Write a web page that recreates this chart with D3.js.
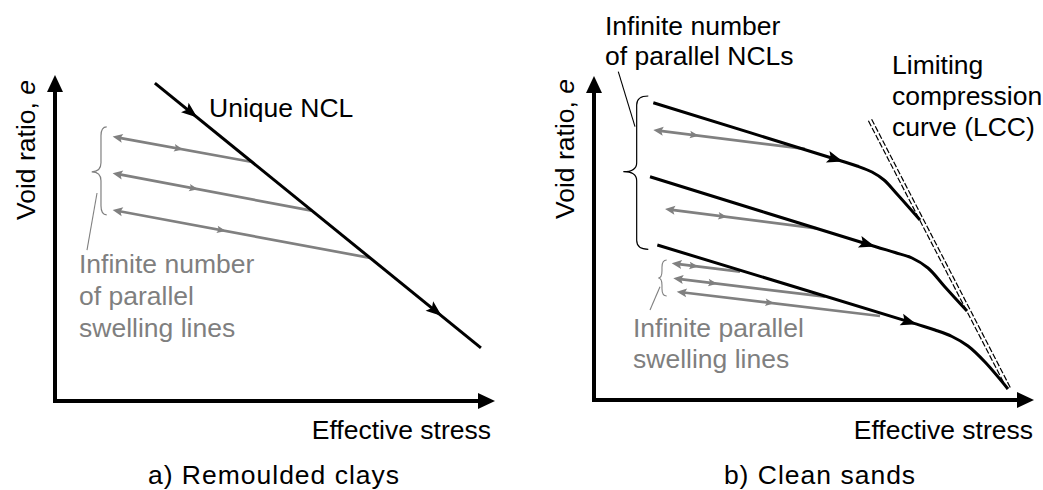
<!DOCTYPE html>
<html><head><meta charset="utf-8">
<script src="https://cdn.jsdelivr.net/npm/d3@7"></script>
<style>body{margin:0;background:#fff}svg{display:block}text{font-family:"Liberation Sans",Arial,Helvetica,sans-serif}</style>
</head><body><svg id="c" width="1043" height="490"></svg>
<script>
// ---------------- DATA (abstract units: stress 0-10, void ratio 0-10) ----------------
const panelCaptions = ["a) Remoulded clays", "b) Clean sands"];
const xAxisTitle = "Effective stress";
const yAxisTitle = "Void ratio, ";
const yAxisSymbol = "e";

// Panel a: remoulded clays
const clayNCL = [[2.27, 9.75], [9.68, 1.63]];
const clayNCLArrowAt = [0.13, 0.88];
const claySwellStart = [[1.31, 8.11], [1.31, 6.99], [1.31, 5.86]];
const claySwellEnd = [[4.45, 7.34], [5.83, 5.84], [7.16, 4.39]];
const claySwellArrowAt = [0.51, 0.43, 0.44];
const clayBrace = {top: 8.41, mid: 7.03, bottom: 5.71, hook: 1.175, stem: 1.045, tip: 0.834};
const clayLeader = [[0.955, 6.38], [0.727, 4.63]];
const clayNCLLabel = "Unique NCL";
const claySwellLabel = ["Infinite number", "of parallel", "swelling lines"];

// Panel b: clean sands
const sandNCL1 = [[1.348, 9.176], [5.659, 7.361], [5.977, 7.222], [6.318, 7.037], [6.591, 6.790], [6.886, 6.358], [7.409, 5.556]];
const sandNCL2 = [[1.273, 6.892], [6.386, 4.738], [6.841, 4.552], [7.227, 4.383], [7.591, 4.074], [7.977, 3.488], [8.477, 2.747]];
const sandNCL3 = [[1.439, 4.784], [7.334, 2.340], [7.750, 2.160], [8.136, 1.960], [8.500, 1.667], [8.886, 1.173], [9.409, 0.340]];
const sandLCC = [[6.273, 8.642], [9.432, 0.340]];
const sandSwellStart = [[1.348, 8.333], [1.614, 5.895], [1.766, 4.219], [1.802, 3.756], [1.880, 3.343]];
const sandSwellEnd = [[4.795, 7.749], [5.061, 5.299], [3.318, 3.960], [5.250, 3.188], [6.500, 2.593]];
const sandSwellArrowAt = [0.30, 0.41, 0.39, 0.29, 0.48];
const sandBigBrace = {top: 9.383, mid: 7.046, bottom: 4.650, hook: 1.234, stem: 0.970, tip: 0.666};
const sandBigLeader = [[0.932, 8.435], [0.552, 10.133]];
const sandSmallBrace = {top: 4.321, mid: 3.765, bottom: 3.210, hook: 1.652, stem: 1.545, tip: 1.461};
const sandSmallLeader = [[1.5, 3.497], [1.273, 2.778]];
const sandNCLLabel = ["Infinite number", "of parallel NCLs"];
const sandLCCLabel = ["Limiting", "compression", "curve (LCC)"];
const sandSwellLabel = ["Infinite parallel", "swelling lines"];

// ---------------- DRAWING ----------------
const svg = d3.select("#c");
const FS = 26.5;
const GRAY = "#808080";
const GRAYTXT = "#7f7f7f";

const xa = d3.scaleLinear().domain([0, 10]).range([55, 495]);
const ya = d3.scaleLinear().domain([0, 10]).range([401, 75]);
const xb = d3.scaleLinear().domain([0, 10]).range([594, 1034]);
const yb = d3.scaleLinear().domain([0, 10]).range([400, 76]);

function arrowHead(g, tip, ang, len, wid, color, notch) {
  const ca = Math.cos(ang), sa = Math.sin(ang);
  const bx = tip[0] - len * ca, by = tip[1] - len * sa;
  const px = -sa, py = ca;
  const p1 = [bx + px * wid / 2, by + py * wid / 2];
  const p2 = [bx - px * wid / 2, by - py * wid / 2];
  const n = [tip[0] - len * (1 - notch) * ca, tip[1] - len * (1 - notch) * sa];
  g.append("path").attr("d", `M${tip[0]},${tip[1]}L${p1[0]},${p1[1]}L${n[0]},${n[1]}L${p2[0]},${p2[1]}Z`).attr("fill", color);
}

function drawAxes(g, x, y) {
  const x0 = x(0), y0 = y(0), xt = x(10), yt = y(10);
  g.append("line").attr("x1", x0).attr("y1", y0 + 2).attr("x2", x0).attr("y2", yt + 12)
    .attr("stroke", "#000").attr("stroke-width", 4);
  g.append("line").attr("x1", x0 - 2).attr("y1", y0).attr("x2", xt - 12).attr("y2", y0)
    .attr("stroke", "#000").attr("stroke-width", 4);
  arrowHead(g, [x0, yt], -Math.PI / 2, 17, 16, "#000", 0);
  arrowHead(g, [xt, y0], 0, 17, 16, "#000", 0);
}

function brace(g, b, x, y, color, sw) {
  const xh = x(b.hook), xs = x(b.stem), xt = x(b.tip);
  const y0 = y(b.top), ym = y(b.mid), y1 = y(b.bottom);
  const r = Math.min(9, (y1 - y0) / 5);
  const d = `M${xh},${y0}Q${xs},${y0} ${xs},${y0 + r}L${xs},${ym - r}Q${xs},${ym} ${xt},${ym}` +
            `Q${xs},${ym} ${xs},${ym + r}L${xs},${y1 - r}Q${xs},${y1} ${xh},${y1}`;
  g.append("path").attr("d", d).attr("fill", "none").attr("stroke", color).attr("stroke-width", sw);
}

function leader(g, pts, x, y, color) {
  g.append("line").attr("x1", x(pts[0][0])).attr("y1", y(pts[0][1]))
    .attr("x2", x(pts[1][0])).attr("y2", y(pts[1][1]))
    .attr("stroke", color).attr("stroke-width", 1.1);
}

function swellLine(g, s, e, f, x, y) {
  const sx = x(s[0]), sy = y(s[1]), ex = x(e[0]), ey = y(e[1]);
  const ang = Math.atan2(ey - sy, ex - sx);
  const L = 10;
  g.append("line").attr("x1", sx + L * 0.7 * Math.cos(ang)).attr("y1", sy + L * 0.7 * Math.sin(ang))
    .attr("x2", ex).attr("y2", ey).attr("stroke", GRAY).attr("stroke-width", 2.7);
  arrowHead(g, [sx, sy], ang + Math.PI, L, 9, GRAY, 0.2);
  const mx = sx + f * (ex - sx), my = sy + f * (ey - sy);
  arrowHead(g, [mx, my], ang, 9, 7.5, GRAY, 0.2);
}

function textLines(g, lines, px, baselines, color, anchor) {
  lines.forEach((t, i) => {
    g.append("text").attr("x", px).attr("y", baselines[i]).attr("fill", color)
      .attr("font-size", FS).attr("text-anchor", anchor || "start").text(t);
  });
}

function yTitle(g, px, py) {
  const t = g.append("text").attr("transform", `translate(${px},${py}) rotate(-90)`)
    .attr("text-anchor", "middle").attr("font-size", FS).attr("fill", "#000");
  t.append("tspan").text(yAxisTitle);
  t.append("tspan").attr("font-style", "italic").text(yAxisSymbol);
}

// ---- Panel a ----
const ga = svg.append("g");
claySwellStart.forEach((s, i) => swellLine(ga, s, claySwellEnd[i], claySwellArrowAt[i], xa, ya));
{
  const p0 = [xa(clayNCL[0][0]), ya(clayNCL[0][1])], p1 = [xa(clayNCL[1][0]), ya(clayNCL[1][1])];
  ga.append("path").attr("d", d3.line()(clayNCL.map(d => [xa(d[0]), ya(d[1])])))
    .attr("stroke", "#000").attr("stroke-width", 3).attr("fill", "none");
  const ang = Math.atan2(p1[1] - p0[1], p1[0] - p0[0]);
  clayNCLArrowAt.forEach(f => arrowHead(ga, [p0[0] + f * (p1[0] - p0[0]), p0[1] + f * (p1[1] - p0[1])], ang, 16, 12, "#000", 0.2));
}
brace(ga, clayBrace, xa, ya, GRAY, 1.2);
leader(ga, clayLeader, xa, ya, GRAY);
drawAxes(ga, xa, ya);
ga.append("text").attr("x", 209).attr("y", 117).attr("font-size", FS).text(clayNCLLabel);
textLines(ga, claySwellLabel, 79, [273, 305, 337], GRAYTXT);
yTitle(ga, 35, 150);
ga.append("text").attr("x", 491).attr("y", 439).attr("font-size", FS).attr("text-anchor", "end").text(xAxisTitle);
ga.append("text").attr("x", 274).attr("y", 484).attr("font-size", FS).attr("letter-spacing", 1)
  .attr("text-anchor", "middle").text(panelCaptions[0]);

// ---- Panel b ----
const gb = svg.append("g");
sandSwellStart.forEach((s, i) => swellLine(gb, s, sandSwellEnd[i], sandSwellArrowAt[i], xb, yb));
{
  // LCC double dashed line
  const p0 = [xb(sandLCC[0][0]), yb(sandLCC[0][1])], p1 = [xb(sandLCC[1][0]), yb(sandLCC[1][1])];
  const ang = Math.atan2(p1[1] - p0[1], p1[0] - p0[0]);
  const nx = -Math.sin(ang), ny = Math.cos(ang);
  [-1.8, 1.8].forEach(o => {
    gb.append("line").attr("x1", p0[0] + nx * o).attr("y1", p0[1] + ny * o)
      .attr("x2", p1[0] + nx * o).attr("y2", p1[1] + ny * o)
      .attr("stroke", "#000").attr("stroke-width", 1.2).attr("stroke-dasharray", "6,2");
  });
}
const curve = d3.line().x(d => xb(d[0])).y(d => yb(d[1])).curve(d3.curveCatmullRom.alpha(0.5));
[sandNCL1, sandNCL2, sandNCL3].forEach(ncl => {
  gb.append("path").attr("d", curve(ncl)).attr("stroke", "#000").attr("stroke-width", 3).attr("fill", "none");
  const p0 = [xb(ncl[0][0]), yb(ncl[0][1])], p1 = [xb(ncl[1][0]), yb(ncl[1][1])];
  const ang = Math.atan2(p1[1] - p0[1], p1[0] - p0[0]);
  arrowHead(gb, p1, ang, 16, 12, "#000", 0.2);
});
brace(gb, sandBigBrace, xb, yb, "#000", 1.2);
leader(gb, sandBigLeader, xb, yb, "#000");
brace(gb, sandSmallBrace, xb, yb, GRAY, 1.1);
leader(gb, sandSmallLeader, xb, yb, GRAY);
drawAxes(gb, xb, yb);
textLines(gb, sandNCLLabel, 605, [35, 65], "#000");
textLines(gb, sandLCCLabel, 892, [74, 105, 136], "#000");
textLines(gb, sandSwellLabel, 633, [337, 368], GRAYTXT);
yTitle(gb, 574, 149);
gb.append("text").attr("x", 1033).attr("y", 439).attr("font-size", FS).attr("text-anchor", "end").text(xAxisTitle);
gb.append("text").attr("x", 820).attr("y", 484).attr("font-size", FS).attr("letter-spacing", 1)
  .attr("text-anchor", "middle").text(panelCaptions[1]);
</script></body></html>
